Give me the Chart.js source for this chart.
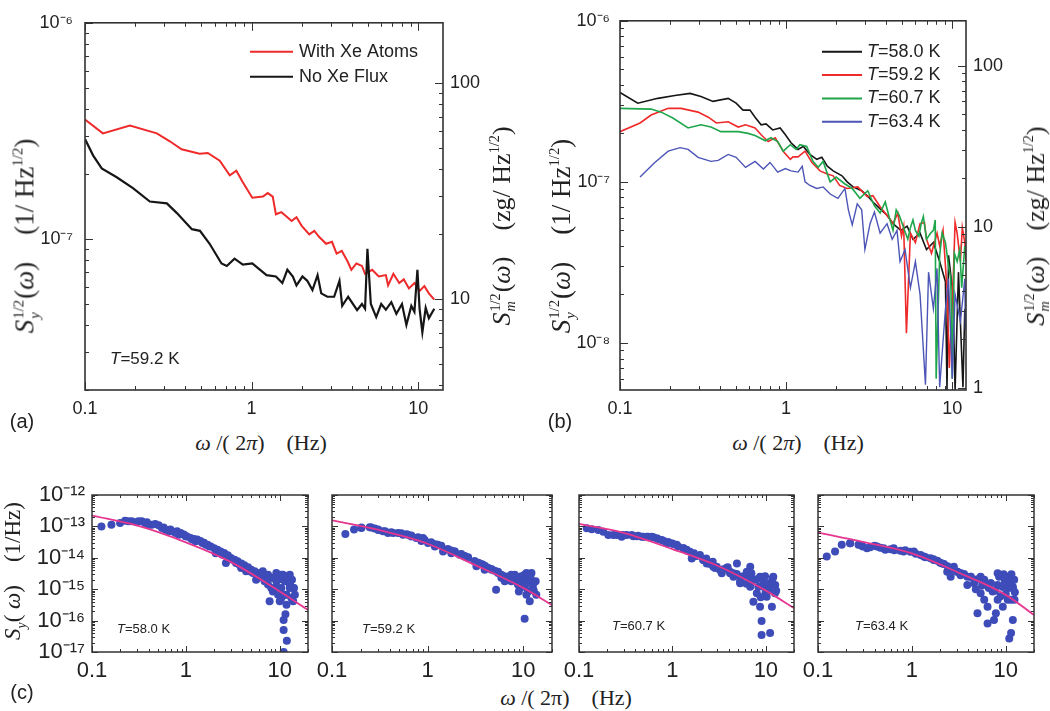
<!DOCTYPE html>
<html>
<head>
<meta charset="utf-8">
<script src="https://cdn.jsdelivr.net/npm/chart.js@4.4.1/dist/chart.umd.min.js"></script>
<style>
  body { margin: 0; background: #fff; width: 1050px; height: 711px; overflow: hidden; position: relative;
         font-family: "Liberation Sans", Arial, sans-serif; color: #222; }
  canvas { position: absolute; }
  .lbl { position: absolute; white-space: nowrap; line-height: 1; }
  .mid { transform: translate(-50%, -50%); }
  .rot { transform: translate(-50%, -50%) rotate(-90deg); }
  .vc { transform: translateY(-50%); }
  .serif { font-family: "Liberation Serif", "Times New Roman", serif; }
  .ss { display: inline-block; vertical-align: -0.35em; font-size: 0.55em; line-height: 1.05; margin: 0 1px; }
  .ss b { display: block; font-weight: normal; }
  sup { font-size: 0.55em; vertical-align: 0.75em; line-height: 0; }
</style>
</head>
<body>
<canvas id="pa" width="520" height="425" style="left:0;top:0"></canvas>
<canvas id="pb" width="530" height="425" style="left:520px;top:0"></canvas>
<canvas id="pc1" width="320" height="215" style="left:0;top:470px"></canvas>
<canvas id="pc2" width="255" height="215" style="left:310px;top:470px"></canvas>
<canvas id="pc3" width="252" height="215" style="left:555px;top:470px"></canvas>
<canvas id="pc4" width="256" height="215" style="left:794px;top:470px"></canvas>

<!-- axis titles, panel letters, notes -->
<div class="lbl serif rot" style="left:27px;top:236px;font-size:27px"><i>S</i><span class="ss"><b>1/2</b><b><i>y</i></b></span>(<i>ω</i>)&ensp;&ensp;(1/ Hz<sup>1/2</sup>)</div>
<div class="lbl serif rot" style="left:503px;top:226px;font-size:26px"><i>S</i><span class="ss"><b>1/2</b><b><i>m</i></b></span>(<i>ω</i>)&ensp;&ensp;(zg/ Hz<sup>1/2</sup>)</div>
<div class="lbl serif rot" style="left:563px;top:236px;font-size:27px"><i>S</i><span class="ss"><b>1/2</b><b><i>y</i></b></span>(<i>ω</i>)&ensp;&ensp;(1/ Hz<sup>1/2</sup>)</div>
<div class="lbl serif rot" style="left:1037px;top:226px;font-size:26px"><i>S</i><span class="ss"><b>1/2</b><b><i>m</i></b></span>(<i>ω</i>)&ensp;&ensp;(zg/ Hz<sup>1/2</sup>)</div>
<div class="lbl serif rot" style="left:15px;top:571px;font-size:23px"><i>S</i><sub style="font-size:0.6em"><i>y</i></sub>( <i>ω</i>)&ensp;&ensp;(1/Hz)</div>

<div class="lbl serif mid" style="left:261px;top:443px;font-size:22px"><i>ω</i> /( 2<i>π</i>)&ensp;&ensp;(Hz)</div>
<div class="lbl serif mid" style="left:798px;top:443px;font-size:22px"><i>ω</i> /( 2<i>π</i>)&ensp;&ensp;(Hz)</div>
<div class="lbl serif mid" style="left:566px;top:698px;font-size:22px"><i>ω</i> /( 2π)&ensp;&ensp;(Hz)</div>

<div class="lbl mid" style="left:22px;top:421px;font-size:20px">(a)</div>
<div class="lbl mid" style="left:560px;top:421px;font-size:20px">(b)</div>
<div class="lbl mid" style="left:22px;top:692px;font-size:20px">(c)</div>

<div class="lbl vc" style="left:110px;top:358px;font-size:17px"><i>T</i>=59.2 K</div>
<div class="lbl vc" style="left:117px;top:628px;font-size:13px"><i>T</i>=58.0 K</div>
<div class="lbl vc" style="left:362px;top:628px;font-size:13px"><i>T</i>=59.2 K</div>
<div class="lbl vc" style="left:612px;top:625px;font-size:13px"><i>T</i>=60.7 K</div>
<div class="lbl vc" style="left:855px;top:625px;font-size:13px"><i>T</i>=63.4 K</div>

<script>
// ---- panel (a): noise spectra with / without Xe ----
const aRedFreq = [0.1,0.128,0.186,0.27,0.323,0.38,0.488,0.546,0.644,0.74,0.81,0.886,1.01,1.17,1.25,1.34,1.4,1.51,1.62,1.74,1.86,2.0,2.22,2.38,2.55,2.8,3.04,3.24,3.48,3.76,3.97,4.26,4.6,4.8,5.3,5.8,6.4,6.6,7.1,7.7,8.2,8.8,9.5,10.2,10.9,11.6,12.5];
const aRedVal = [3.57e-7,3.08e-7,3.35e-7,3.08e-7,2.83e-7,2.6e-7,2.48e-7,2.5e-7,2.3e-7,1.97e-7,2.07e-7,1.83e-7,1.55e-7,1.57e-7,1.63e-7,1.57e-7,1.3e-7,1.33e-7,1.27e-7,1.21e-7,1.26e-7,1.15e-7,1.05e-7,1.09e-7,1.02e-7,9.5e-8,9.7e-8,8.55e-8,8.8e-8,7.9e-8,7.2e-8,7.7e-8,7.5e-8,6.9e-8,7.2e-8,6.7e-8,6.8e-8,6.1e-8,6.9e-8,6.25e-8,6.5e-8,5.9e-8,6.25e-8,5.75e-8,6.05e-8,5.6e-8,5.24e-8];
const aBlkFreq = [0.1,0.112,0.126,0.155,0.194,0.245,0.31,0.355,0.438,0.49,0.56,0.66,0.71,0.79,0.886,1.01,1.23,1.4,1.53,1.64,1.77,1.86,2.02,2.16,2.32,2.49,2.62,2.85,3.13,3.37,3.5,3.8,4.3,4.6,4.8,4.96,5.2,5.6,6.0,6.4,6.9,7.4,8.0,8.5,9.1,9.5,9.9,10.2,10.6,11.1,11.6,12.5];
const aBlkVal = [2.9e-7,2.43e-7,2.12e-7,1.93e-7,1.72e-7,1.49e-7,1.46e-7,1.32e-7,1.11e-7,1.09e-7,9.5e-8,7.7e-8,7.5e-8,8.1e-8,7.6e-8,7.7e-8,6.8e-8,6.7e-8,6.25e-8,7.2e-8,6.7e-8,6.1e-8,6.7e-8,6.4e-8,5.8e-8,6.8e-8,5.6e-8,5.4e-8,5.4e-8,6.4e-8,4.9e-8,5.4e-8,4.68e-8,5.0e-8,4.75e-8,9.0e-8,5.0e-8,4.35e-8,5.0e-8,4.7e-8,5.1e-8,4.5e-8,5.0e-8,4.0e-8,4.9e-8,4.6e-8,7.2e-8,4.75e-8,3.7e-8,4.8e-8,4.3e-8,4.75e-8];

// ---- panel (b): four temperatures ----
const bBlkFreq = [0.1,0.128,0.169,0.214,0.264,0.307,0.363,0.448,0.5,0.55,0.606,0.65,0.707,0.757,0.83,0.92,0.99,1.07,1.18,1.27,1.39,1.53,1.64,1.77,1.92,2.17,2.33,2.53,2.85,3.08,3.33,3.68,4.05,4.4,4.9,5.35,5.8,6.4,7.0,7.7,8.4,9.1,9.3,9.5,10.1,10.4,10.9,11.6,11.9];
const bBlkVal = [3.59e-7,3.08e-7,3.3e-7,3.44e-7,3.54e-7,3.39e-7,3.16e-7,3.3e-7,3.08e-7,2.79e-7,2.79e-7,2.52e-7,2.26e-7,2.29e-7,2.1e-7,2.16e-7,1.96e-7,1.75e-7,1.59e-7,1.66e-7,1.48e-7,1.38e-7,1.42e-7,1.25e-7,1.17e-7,1.09e-7,1.0e-7,9.3e-8,8.8e-8,8.2e-8,7.5e-8,6.8e-8,6.2e-8,5.5e-8,5.0e-8,5.3e-8,4.4e-8,4.8e-8,3.8e-8,4.2e-8,3.2e-8,2.4e-8,5.1e-9,3.5e-8,2.0e-8,5.1e-9,2.75e-8,5.3e-9,1.63e-8];
const bRedFreq = [0.1,0.132,0.154,0.195,0.233,0.295,0.34,0.38,0.448,0.515,0.57,0.65,0.707,0.78,0.86,0.96,1.06,1.1,1.18,1.3,1.43,1.6,1.77,1.92,2.1,2.33,2.7,3.08,3.33,3.68,4.2,4.4,4.7,4.95,5.1,5.3,5.6,6.0,6.4,6.8,7.0,7.5,8.1,8.4,8.8,9.3,9.6,10.2,10.4,10.7,11.2,11.5,11.9,12.1];
const bRedVal = [2.05e-7,2.32e-7,2.6e-7,2.86e-7,2.86e-7,2.71e-7,2.52e-7,2.32e-7,2.36e-7,2.19e-7,2.26e-7,2.16e-7,1.96e-7,1.78e-7,1.88e-7,1.55e-7,1.38e-7,1.43e-7,1.43e-7,1.55e-7,1.32e-7,1.17e-7,1.12e-7,1.09e-7,9.5e-8,9.1e-8,9.3e-8,8.1e-8,8.2e-8,7.0e-8,5.9e-8,5.5e-8,6.4e-8,4.6e-8,5.3e-8,1.15e-8,4.8e-8,4.2e-8,5.5e-8,5.6e-8,4.4e-8,3.6e-8,4.8e-8,4.0e-8,5.0e-8,2.16e-8,7e-9,3.0e-8,5.6e-8,4.8e-8,3.2e-8,5.2e-8,4.2e-8,3.2e-8];
const bGrnFreq = [0.1,0.154,0.177,0.208,0.257,0.307,0.353,0.405,0.515,0.59,0.65,0.75,0.81,0.89,0.96,1.06,1.15,1.21,1.33,1.45,1.56,1.67,1.84,2.0,2.26,2.5,2.78,3.1,3.4,3.68,3.95,4.2,4.4,4.6,4.8,5.0,5.2,5.4,5.6,5.8,6.0,6.3,6.5,6.7,7.0,7.4,7.7,7.9,8.0,8.4,8.7,9.1,9.5,9.8,10.0,10.3,10.7,11.1,11.4,11.9];
const bGrnVal = [2.86e-7,2.83e-7,2.71e-7,2.49e-7,2.16e-7,2.26e-7,2.19e-7,2.05e-7,2.05e-7,2.0e-7,1.94e-7,1.8e-7,1.88e-7,1.78e-7,1.55e-7,1.7e-7,1.59e-7,1.7e-7,1.66e-7,1.34e-7,1.23e-7,1.34e-7,1.0e-7,1.07e-7,9.7e-8,9.1e-8,7.9e-8,8.8e-8,7.1e-8,6.4e-8,7.5e-8,5.9e-8,5.0e-8,6.7e-8,6.2e-8,5.5e-8,4.9e-8,4.4e-8,5.2e-8,5.8e-8,5.0e-8,4.6e-8,5.5e-8,6.1e-8,4.4e-8,4.8e-8,5.0e-8,5.8e-8,6e-9,3.5e-8,4.8e-8,4.2e-8,3.0e-8,2.5e-8,6e-9,3.6e-8,3.2e-8,3.8e-8,2.2e-8,4.0e-8];
const bBluFreq = [0.132,0.162,0.195,0.23,0.257,0.295,0.353,0.39,0.448,0.5,0.57,0.65,0.73,0.8,0.89,0.99,1.07,1.18,1.25,1.3,1.39,1.53,1.67,1.84,2.05,2.26,2.37,2.5,2.68,2.85,2.98,3.2,3.4,3.68,4.05,4.35,4.65,4.85,5.2,5.6,6.0,6.4,6.9,7.2,7.7,8.1,8.4,9.1,9.5,10.0,10.4,11.2,11.9,12.0];
const bBluVal = [1.07e-7,1.32e-7,1.55e-7,1.63e-7,1.59e-7,1.42e-7,1.34e-7,1.36e-7,1.48e-7,1.42e-7,1.23e-7,1.34e-7,1.2e-7,1.32e-7,1.15e-7,1.21e-7,1.17e-7,1.15e-7,1.25e-7,1.0e-7,9.5e-8,9.1e-8,9.3e-8,8.4e-8,7.9e-8,9.1e-8,6.7e-8,5.4e-8,7.3e-8,6.7e-8,3.8e-8,5.5e-8,6.5e-8,4.8e-8,5.5e-8,4.4e-8,5.0e-8,3.2e-8,3.8e-8,2.2e-8,3.2e-8,2.0e-8,5.5e-9,2.75e-8,1.63e-8,2.9e-8,5.3e-9,1.63e-8,2.5e-8,6e-9,2.0e-8,1.36e-8,2.5e-8,1.2e-8];

// ---- panel (c): power spectra (dots) and fits ----
const c1Freq = [0.126,0.161,0.199,0.244,0.299,0.368,0.434,0.513,0.605,0.713,0.841,0.993,1.27,1.5,1.77,2.08,2.45,2.67,3.15,3.72,4.38,5.17,5.6,6.6,7.5,8.1,9.2,10.4,11.3,12.8,13.9,10.4,11.8,13.3,11.5,11.0,11.0,11.9,11.0,8.45,9.6,7.8,14.5,11.8,12.8,10.8,9.2,6.6,4.38,3.42,2.08,1.63,1.17,0.775,0.556,0.4,0.339,0.656,10.0,13.9,8.8,7.2,6.1,4.75,3.88,2.9,
  0.225,0.265,0.313,0.384,0.472,0.58,0.684,0.807,0.951,1.12,1.32,1.56,1.84,2.17,2.56,3.02,3.56,4.2,4.96,5.85,6.9,8.13,9.6,11.3,12.8,
  5.85,6.9,8.13,9.6,11.3,12.8,10.4,12.2,7.5,13.5,14.2,0.88,1.03,1.22,1.43,1.7,2.0,2.35,2.8,3.3,3.9,4.6,5.4,6.3];
const c1Val = [1.0e-13,1.13e-13,1.28e-13,1.45e-13,1.35e-13,1.28e-13,1.13e-13,1.08e-13,7.85e-14,6.98e-14,5.44e-14,4.84e-14,3.35e-14,2.96e-14,2.32e-14,1.81e-14,1.26e-14,6.8e-15,8.7e-15,6.0e-15,4.7e-15,3.3e-15,2.0e-15,2.6e-15,1.4e-15,2.3e-15,1.8e-15,1.1e-15,2.0e-15,1.4e-15,1.1e-15,5.2e-16,3.2e-16,5.2e-16,1.6e-16,1.05e-16,5e-17,2.3e-17,1.0e-17,8.5e-16,6.6e-16,4.1e-16,6.6e-16,6.6e-16,2.9e-15,2.9e-15,3.3e-15,3.7e-15,3.7e-15,6.8e-15,1.4e-14,2.6e-14,3.8e-14,6.2e-14,8.9e-14,1.13e-13,1.45e-13,7.0e-14,4.1e-16,4.1e-16,1.1e-15,2.0e-15,2.6e-15,3.7e-15,4.7e-15,9.8e-15,
  1.52e-13,1.45e-13,1.45e-13,1.35e-13,1.19e-13,9.3e-14,7.9e-14,7.0e-14,5.5e-14,4.3e-14,3.8e-14,3.0e-14,2.3e-14,1.8e-14,1.42e-14,9.9e-15,7.7e-15,5.8e-15,4.2e-15,3.3e-15,2.6e-15,2.3e-15,2.0e-15,1.78e-15,1.58e-15,
  2.3e-15,1.78e-15,1.1e-15,1.1e-15,6.7e-16,1.1e-15,2.9e-15,2.6e-15,2.9e-15,2.0e-15,1.1e-15,6.2e-14,4.8e-14,4.0e-14,3.4e-14,2.6e-14,2.0e-14,1.6e-14,1.2e-14,8.7e-15,6.6e-15,5.0e-15,3.7e-15,3.0e-15];
const c2Freq = [0.138,0.17,0.203,0.248,0.303,0.385,0.49,0.624,0.762,0.895,1.01,1.28,1.51,1.77,2.17,2.65,3.24,3.8,4.65,5.45,5.2,6.4,7.5,8.8,9.96,11.2,12.6,10.8,11.7,13.7,10.35,8.15,10.35,12.2,5.9,3.95,3.11,2.44,1.92,1.45,1.19,0.86,0.676,0.553,0.435,0.341,0.28,11.2,9.2,12.6,7.2,4.28,
  0.203,0.258,0.305,0.417,0.531,0.676,0.794,0.933,1.09,1.39,1.63,1.92,2.25,2.65,3.1,3.65,4.29,5.03,5.9,6.93,8.15,9.55,11.2,12.7,
  6.4,7.5,8.8,9.55,10.4,11.9,12.9,13.5,9.0,10.8,1.2,1.76,2.45,3.4,4.0,4.65,5.45,0.36,0.6,0.85];
const c2Val = [5.7e-14,7.9e-14,8.9e-14,9.4e-14,7.9e-14,6.2e-14,6.2e-14,5.4e-14,4.3e-14,4.3e-14,2.95e-14,2.6e-14,1.8e-14,1.4e-14,1.26e-14,1.0e-14,5.4e-15,6.0e-15,4.2e-15,3.3e-15,9.6e-16,2.6e-15,1.8e-15,2.3e-15,1.4e-15,2.0e-15,1.1e-15,6.6e-16,4.1e-16,6.6e-16,1.15e-16,2.9e-15,2.9e-15,3.3e-15,2.3e-15,4.2e-15,7.8e-15,1.1e-14,1.6e-14,1.6e-14,2.3e-14,3.4e-14,4.8e-14,5.4e-14,6.2e-14,7.0e-14,8.5e-14,8.5e-16,1.1e-15,1.6e-15,2.6e-15,4.7e-15,
  9.3e-14,9.3e-14,7.7e-14,6.5e-14,6.0e-14,5.1e-14,4.5e-14,3.7e-14,3.1e-14,2.4e-14,1.9e-14,1.6e-14,1.32e-14,1.04e-14,7.7e-15,6.4e-15,4.7e-15,3.9e-15,2.9e-15,2.3e-15,1.97e-15,1.78e-15,1.66e-15,1.47e-15,
  1.8e-15,2.9e-15,1.4e-15,2.6e-15,1.2e-15,2.3e-15,9e-16,1.8e-15,8.5e-16,3.3e-15,2.7e-14,1.7e-14,1.15e-14,7.0e-15,5.5e-15,4.4e-15,3.6e-15,7.0e-14,5.6e-14,4.0e-14];
const c3Freq = [0.121,0.161,0.206,0.254,0.324,0.415,0.531,0.679,0.869,1.11,1.42,1.67,1.97,2.33,2.74,3.23,3.81,4.49,5.3,6.25,7.35,8.67,10.2,12.0,7.35,8.67,10.2,11.6,9.0,9.0,11.1,8.0,10.6,12.5,6.8,5.3,4.14,3.37,2.86,2.14,1.61,1.31,0.98,0.767,0.6,0.469,0.367,0.286,9.4,12.0,6.8,4.9,
  0.137,0.182,0.233,0.298,0.382,0.488,0.625,0.8,1.02,1.31,1.54,1.82,2.14,2.53,2.98,3.51,4.14,4.88,5.74,6.78,8.0,9.4,11.1,12.6,
  5.3,6.2,7.0,8.3,9.8,10.8,11.8,12.9,8.8,9.9,4.5,3.9,2.7,2.3,1.7,1.42,1.15,0.9,0.7,0.55,0.43];
const c3Val = [8.7e-14,7.7e-14,5.3e-14,5.3e-14,5.3e-14,4.9e-14,4.7e-14,4.2e-14,2.9e-14,2.6e-14,1.8e-14,1.1e-14,1.23e-14,6.6e-15,5.2e-15,4.1e-15,4.7e-15,3.2e-15,2.5e-15,3.6e-15,1.95e-15,2.5e-15,1.55e-15,1.35e-15,4.0e-16,2.75e-16,5.7e-16,2.75e-16,9.8e-17,3.5e-17,4.0e-17,7.4e-16,9.3e-16,7.4e-16,1.2e-15,1.55e-15,3.2e-15,3.2e-15,4.7e-15,8.5e-15,9.5e-15,2.0e-14,2.9e-14,3.7e-14,4.7e-14,4.7e-14,5.3e-14,4.7e-14,1.2e-15,2.5e-15,5.2e-15,6.6e-15,
  8.1e-14,6.8e-14,5.3e-14,5.3e-14,4.9e-14,4.7e-14,4.5e-14,3.5e-14,2.75e-14,2.0e-14,1.57e-14,1.14e-14,8.5e-15,6.4e-15,5.2e-15,4.3e-15,3.6e-15,3.05e-15,2.6e-15,2.4e-15,2.06e-15,1.74e-15,1.54e-15,1.36e-15,
  1.8e-15,1.5e-15,3.2e-15,1.2e-15,2.6e-15,9.3e-16,2.2e-15,9e-16,5.5e-16,7.4e-16,2.5e-15,5.0e-15,7.5e-15,9.5e-15,1.4e-14,1.7e-14,2.3e-14,3.2e-14,4.0e-14,4.7e-14,5.0e-14];
const c4Freq = [0.124,0.152,0.179,0.22,0.27,0.332,0.425,0.521,0.64,0.818,1.05,1.34,1.71,2.1,2.38,2.8,3.3,3.9,4.6,5.9,6.9,5.4,5.0,6.4,6.4,7.5,8.2,9.3,10.5,11.9,9.3,11.4,11.9,11.4,10.9,8.2,3.05,2.59,3.9,5.9,7.85,7.25,10.5,12.4,4.24,5.4,
  0.22,0.282,0.36,0.461,0.59,0.755,0.966,1.24,1.58,1.87,2.2,2.59,3.05,3.6,4.24,5.0,5.89,6.95,8.19,9.26,10.5,11.9,
  8.5,9.5,10.5,11.5,12.3,9.8,11.0,12.5,10.0,8.8,7.7,6.6,5.6,4.8,0.65,0.85,1.1,1.4,1.7,2.0,2.4,2.8,3.3,0.3,0.4,0.5];
const c4Val = [1.1e-14,1.6e-14,2.6e-14,2.9e-14,2.6e-14,2.0e-14,2.3e-14,1.8e-14,2.0e-14,1.6e-14,1.6e-14,1.1e-14,8.5e-15,6.6e-15,3.6e-15,5.2e-15,2.8e-15,2.5e-15,1.55e-15,2.0e-15,1.55e-15,7.4e-16,1.7e-16,2.75e-16,8.1e-17,1.05e-16,4.6e-16,1.2e-15,1.2e-15,1.2e-15,2.75e-16,4.6e-16,1.05e-16,4.0e-17,2.7e-17,3.2e-15,3.6e-15,2.5e-15,1.35e-15,4.6e-16,1.7e-16,8.5e-16,4.6e-16,4.6e-16,2.5e-15,2.5e-15,
  2.9e-14,2.56e-14,2.15e-14,2.1e-14,1.86e-14,1.69e-14,1.57e-14,1.23e-14,9.6e-15,8.1e-15,6.4e-15,4.6e-15,3.6e-15,3.05e-15,2.5e-15,2.06e-15,1.74e-15,1.54e-15,1.36e-15,1.2e-15,1.07e-15,1.07e-15,
  2.5e-15,3.0e-15,2.5e-15,3.0e-15,2.0e-15,1.8e-15,1.5e-15,8e-16,7e-16,6e-16,9e-16,1.1e-15,1.3e-15,1.0e-15,1.75e-14,1.75e-14,1.35e-14,1.05e-14,9e-15,7.0e-15,5.4e-15,4.2e-15,3.3e-15,2.3e-14,2.4e-14,2.0e-14];
const cFitFreq = [0.1,0.3,1,3,10,20];
const cFit1 = [2.2e-13,1.07e-13,3.1e-14,7.4e-15,8.5e-16,2.2e-16];
const cFit2 = [1.55e-13,7.9e-14,2.8e-14,6.3e-15,1.1e-15,3.1e-16];
const cFit3 = [1.2e-13,6.2e-14,1.9e-14,5.7e-15,9e-16,2.5e-16];
const cFit4 = [6.3e-14,3.2e-14,1.38e-14,3.6e-15,6.6e-16,1.5e-16];

// tick labels
const abXTicks = [0.1, 1, 10];
const aYTicks = [1e-7, 1e-6];
const aY2Ticks = [10, 100];
const bYTicks = [1e-8, 1e-7, 1e-6];
const bY2Ticks = [1, 10, 100];
const cXTicks = [0.1, 1, 10];
const cYTicks = [1e-17, 1e-16, 1e-15, 1e-14, 1e-13, 1e-12];

const RED = '#ee2a2a', BLACK = '#161616', GREEN = '#1ea64b', BLUE = '#4c55b6';
const DOT = '#3d4cb9', FIT = '#e6368f';
const TXT = '#222';

const supChars = '⁻⁰¹²³⁴⁵⁶⁷⁸⁹';
const sup = n => String(n).split('').map(c => supChars['-0123456789'.indexOf(c)]).join('');
const pow10Label = v => '10' + sup(Math.round(Math.log10(v)));
const plainLabel = v => String(v);
const pts = (fx, fy) => fx.map((f, i) => ({ x: f, y: fy[i] }));

// all minor/major positions of a log axis, used for inward tick marks
function logMarks(min, max) {
  const out = [];
  for (let e = Math.floor(Math.log10(min)); e <= Math.ceil(Math.log10(max)); e++) {
    for (let m = 1; m < 10; m++) {
      const v = m * Math.pow(10, e);
      if (v >= min * 0.999 && v <= max * 1.001) out.push([v, m === 1]);
    }
  }
  return out;
}

// frame + inward ticks (the paper style), drawn through the chart's scales
const frameTicks = {
  id: 'frameTicks',
  afterDatasetsDraw(chart, args, o) {
    const { ctx, chartArea: a } = chart;
    const xs = chart.scales.x, ys = chart.scales.y;
    const yr = chart.scales[o.rightScale] || ys;
    ctx.save();
    ctx.strokeStyle = '#333';
    ctx.lineWidth = o.lineWidth;
    ctx.beginPath();
    logMarks(xs.min, xs.max).forEach(([v, major]) => {
      const p = Math.round(xs.getPixelForValue(v)) + 0.5;
      const len = major ? o.major : o.minor;
      ctx.moveTo(p, a.bottom); ctx.lineTo(p, a.bottom - len);
      ctx.moveTo(p, a.top); ctx.lineTo(p, a.top + len);
    });
    logMarks(ys.min, ys.max).forEach(([v, major]) => {
      const p = Math.round(ys.getPixelForValue(v)) + 0.5;
      ctx.moveTo(a.left, p); ctx.lineTo(a.left + (major ? o.major : o.minor), p);
    });
    logMarks(yr.min, yr.max).forEach(([v, major]) => {
      const p = Math.round(yr.getPixelForValue(v)) + 0.5;
      ctx.moveTo(a.right, p); ctx.lineTo(a.right - (major ? o.major : o.minor), p);
    });
    ctx.stroke();
    ctx.lineWidth = o.frameWidth;
    ctx.strokeRect(a.left, a.top, a.right - a.left, a.bottom - a.top);
    ctx.restore();
  }
};

// legend inside the plot: short line + label, italic T for temperatures
const inLegend = {
  id: 'inLegend',
  afterDraw(chart, args, o) {
    if (!o.x) return;
    const { ctx, chartArea: a } = chart;
    const items = chart.data.datasets.filter(d => d.label);
    ctx.save();
    ctx.textBaseline = 'middle';
    items.forEach((d, i) => {
      const x = a.left + o.x, y = a.top + o.y + i * o.dy;
      ctx.strokeStyle = d.borderColor;
      ctx.lineWidth = 2;
      ctx.beginPath(); ctx.moveTo(x, y); ctx.lineTo(x + o.len, y); ctx.stroke();
      ctx.fillStyle = TXT;
      let tx = x + o.len + o.gap, txt = d.label;
      if (txt.startsWith('T=')) {
        ctx.font = `italic ${o.size}px "Liberation Sans", Arial, sans-serif`;
        ctx.fillText('T', tx, y);
        tx += ctx.measureText('T').width;
        txt = txt.slice(1);
      }
      ctx.font = `${o.size}px "Liberation Sans", Arial, sans-serif`;
      ctx.fillText(txt, tx, y);
    });
    ctx.restore();
  }
};

function logAxis(pos, min, max, tickVals, fmt, size, pad, fontSize) {
  return {
    type: 'logarithmic', position: pos, min, max,
    grid: { display: false, drawTicks: false },
    border: { display: false },
    ticks: {
      display: tickVals.length > 0, autoSkip: false, maxRotation: 0, padding: pad, color: TXT,
      font: { family: '"Liberation Sans", Arial, sans-serif', size: fontSize },
      callback: v => fmt(v)
    },
    afterBuildTicks: ax => { ax.ticks = tickVals.map(v => ({ value: v })); },
    afterFit: ax => { if (pos === 'bottom') ax.height = size; else ax.width = size; }
  };
}

const line = (label, fx, fy, color, order, w) => ({
  label, data: pts(fx, fy), borderColor: color, backgroundColor: color, borderWidth: w,
  showLine: true, pointRadius: 0, tension: 0, order
});
const dots = (fx, fy) => ({
  data: pts(fx, fy), backgroundColor: DOT, borderWidth: 0, pointRadius: 4, showLine: false, order: 2
});
const fit = fy => ({
  data: pts(cFitFreq, fy), borderColor: FIT, borderWidth: 1.8, pointRadius: 0, showLine: true,
  cubicInterpolationMode: 'monotone', order: 1
});

function makeChart(id, datasets, scales, pad, frame, legend) {
  return new Chart(document.getElementById(id), {
    type: 'scatter',
    data: { datasets },
    options: {
      responsive: false, animation: false, devicePixelRatio: 1, events: [],
      layout: { padding: { top: pad.top, right: pad.right || 0, left: 0, bottom: 0 }, autoPadding: false },
      scales,
      plugins: { legend: { display: false }, tooltip: { enabled: false }, frameTicks: frame, inLegend: legend || {} }
    },
    plugins: [frameTicks, inLegend]
  });
}

// (a)
makeChart('pa',
  [line('With Xe Atoms', aRedFreq, aRedVal, RED, 2, 2), line('No Xe Flux', aBlkFreq, aBlkVal, BLACK, 1, 2.2)],
  {
    x: logAxis('bottom', 0.1, 14.1, abXTicks, plainLabel, 35, 8, 18),
    y: logAxis('left', 2e-8, 1e-6, aYTicks, pow10Label, 85, 12, 18),
    y2: logAxis('right', 3.8, 190, aY2Ticks, plainLabel, 77, 7, 18)
  },
  { top: 14 },
  { rightScale: 'y2', major: 8, minor: 4, lineWidth: 1, frameWidth: 1.6 },
  { x: 165, y: 29, dy: 25, len: 43, gap: 6, size: 18 }
);

// (b)
makeChart('pb',
  [line('T=58.0 K', bBlkFreq, bBlkVal, BLACK, 4, 1.6), line('T=59.2 K', bRedFreq, bRedVal, RED, 3, 1.6),
   line('T=60.7 K', bGrnFreq, bGrnVal, GREEN, 2, 1.6), line('T=63.4 K', bBluFreq, bBluVal, BLUE, 1, 1.4)],
  {
    x: logAxis('bottom', 0.1, 12.1, abXTicks, plainLabel, 35, 8, 18),
    y: logAxis('left', 5.1e-9, 1e-6, bYTicks, pow10Label, 100, 10, 18),
    y2: logAxis('right', 0.97, 190, bY2Ticks, plainLabel, 84, 7, 18)
  },
  { top: 14 },
  { rightScale: 'y2', major: 8, minor: 4, lineWidth: 1, frameWidth: 1.6 },
  { x: 202, y: 31, dy: 23.3, len: 40, gap: 5, size: 18 }
);

// (c) four small panels
const cPanels = [
  ['pc1', c1Freq, c1Val, cFit1, 92, 12, true],
  ['pc2', c2Freq, c2Val, cFit2, 22, 13, false],
  ['pc3', c3Freq, c3Val, cFit3, 24, 13, false],
  ['pc4', c4Freq, c4Val, cFit4, 24, 16, false]
];
cPanels.forEach(([id, fx, fy, ff, left, right, labels]) => {
  makeChart(id,
    [dots(fx, fy), fit(ff)],
    {
      x: logAxis('bottom', 0.1, 20, cXTicks, plainLabel, 33, 6, 22),
      y: logAxis('left', 1e-17, 1e-12, labels ? cYTicks : [], pow10Label, left, 7, 22)
    },
    { top: 25, right },
    { major: 6, minor: 3, lineWidth: 1, frameWidth: 1.5 }
  );
});
</script>
</body>
</html>
